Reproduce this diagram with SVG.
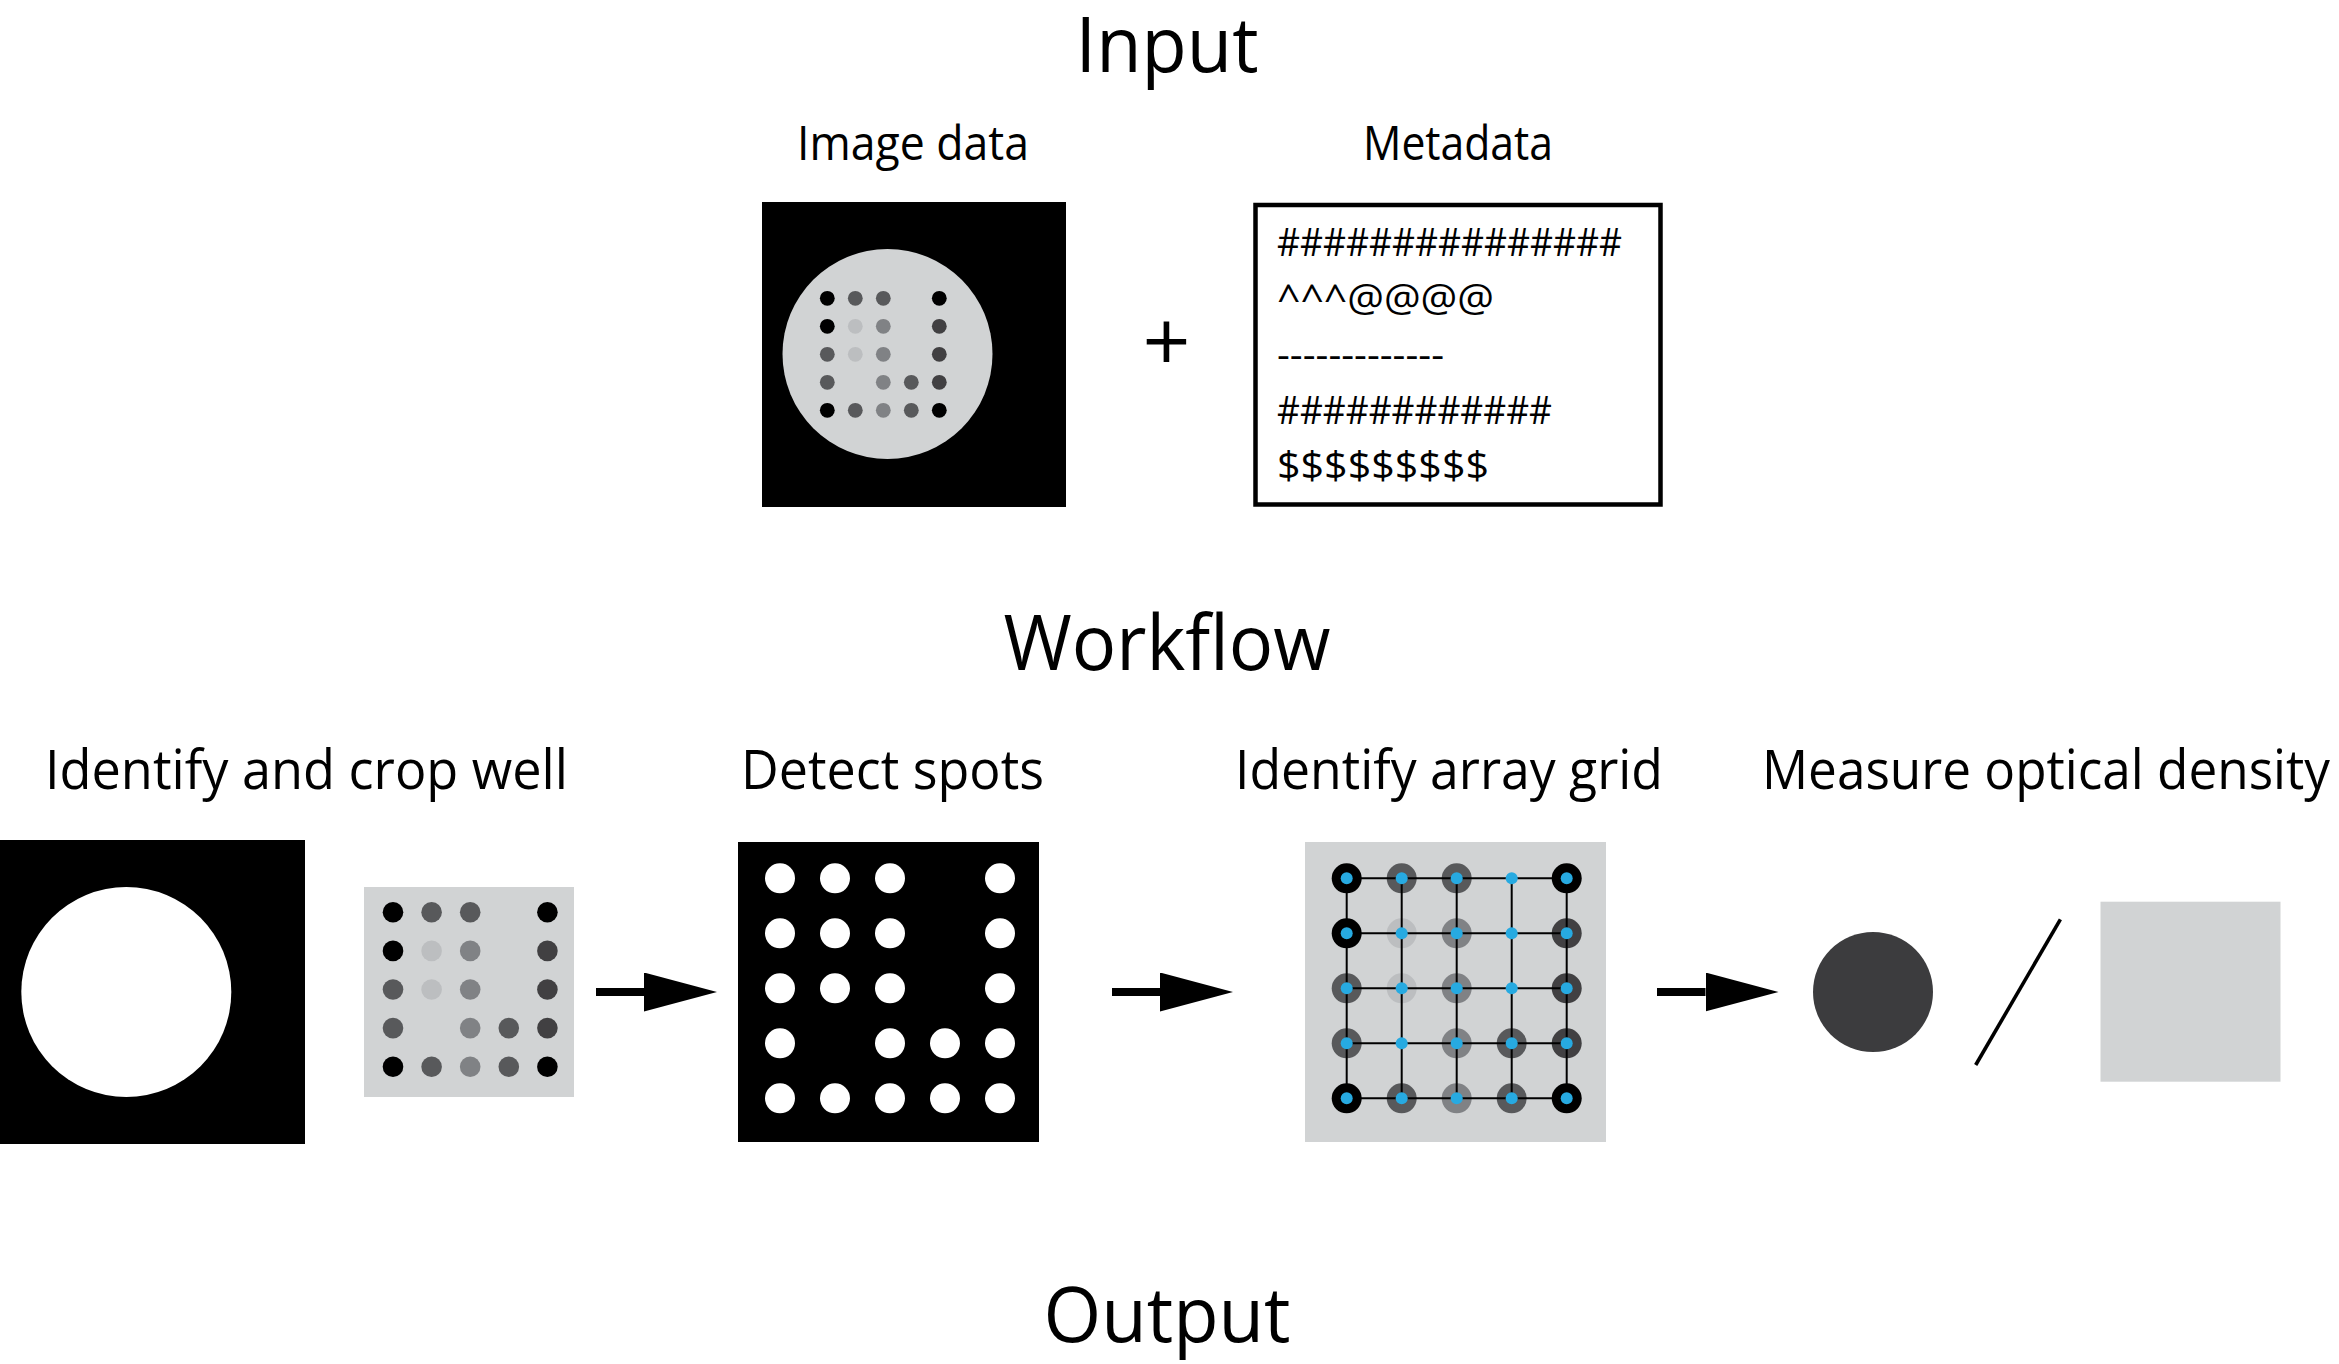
<svg xmlns="http://www.w3.org/2000/svg" width="2339" height="1364" viewBox="0 0 2339 1364">
<defs>
<style>
text{font-family:"Open Sans","Noto Sans","DejaVu Sans",sans-serif;fill:#000}
.title{font-size:77.5px}
.lbl{font-size:47px}
.wlbl{font-size:54.7px}
.meta{font-size:39px}
.k{fill:#000}
.d{fill:#58595B}
.m{fill:#808285}
.l{fill:#BCBEC0}
.x{fill:#414042}
.bg{fill:#D1D3D4}
.w{fill:#FFF}
.b{fill:#27AAE1}
.grid line{stroke:#000;stroke-width:2}
.conn{stroke:#000;stroke-width:8;fill:none}
</style>
<marker id="head" markerUnits="userSpaceOnUse" markerWidth="74" markerHeight="40" refX="0" refY="19.5" orient="auto">
<path d="M0,0 L73,19.5 L0,39 Z" fill="#000"/>
</marker>
</defs>
<rect width="2339" height="1364" fill="#FFF"/>

<g id="title-input"><text class="title" x="1167" y="72" text-anchor="middle" textLength="183" lengthAdjust="spacingAndGlyphs">Input</text></g>

<g id="node-image-data">
<text class="lbl" x="913" y="160" text-anchor="middle" textLength="232" lengthAdjust="spacingAndGlyphs">Image data</text>
<rect x="762" y="202" width="304" height="305" class="k"/>
<circle cx="887.5" cy="354" r="105" class="bg"/>
<g>
<circle cx="827.3" cy="298.3" r="7.4" class="k"/><circle cx="855.3" cy="298.3" r="7.4" class="d"/><circle cx="883.3" cy="298.3" r="7.4" class="d"/><circle cx="939.3" cy="298.3" r="7.4" class="k"/>
<circle cx="827.3" cy="326.3" r="7.4" class="k"/><circle cx="855.3" cy="326.3" r="7.4" class="l"/><circle cx="883.3" cy="326.3" r="7.4" class="m"/><circle cx="939.3" cy="326.3" r="7.4" class="x"/>
<circle cx="827.3" cy="354.3" r="7.4" class="d"/><circle cx="855.3" cy="354.3" r="7.4" class="l"/><circle cx="883.3" cy="354.3" r="7.4" class="m"/><circle cx="939.3" cy="354.3" r="7.4" class="x"/>
<circle cx="827.3" cy="382.3" r="7.4" class="d"/><circle cx="883.3" cy="382.3" r="7.4" class="m"/><circle cx="911.3" cy="382.3" r="7.4" class="d"/><circle cx="939.3" cy="382.3" r="7.4" class="x"/>
<circle cx="827.3" cy="410.3" r="7.4" class="k"/><circle cx="855.3" cy="410.3" r="7.4" class="d"/><circle cx="883.3" cy="410.3" r="7.4" class="m"/><circle cx="911.3" cy="410.3" r="7.4" class="d"/><circle cx="939.3" cy="410.3" r="7.4" class="k"/>
</g>
</g>

<g id="plus"><text x="1166.5" y="371" text-anchor="middle" style="font-size:84px">+</text></g>

<g id="node-metadata">
<text class="lbl" x="1458" y="160" text-anchor="middle" textLength="190" lengthAdjust="spacingAndGlyphs">Metadata</text>
<rect x="1255.5" y="205" width="405" height="299.5" fill="#FFF" stroke="#000" stroke-width="4.5"/>
<text class="meta" x="1277" y="256" textLength="345" lengthAdjust="spacingAndGlyphs">###############</text>
<text class="meta" x="1277" y="312" textLength="217" lengthAdjust="spacingAndGlyphs">^^^@@@@</text>
<text class="meta" x="1277" y="367.5" textLength="167" lengthAdjust="spacingAndGlyphs">-------------</text>
<text class="meta" x="1277" y="423.5" textLength="275" lengthAdjust="spacingAndGlyphs">############</text>
<text class="meta" x="1277" y="479" textLength="212" lengthAdjust="spacingAndGlyphs">$$$$$$$$$</text>
</g>

<g id="title-workflow"><text class="title" x="1167" y="670" text-anchor="middle" textLength="327" lengthAdjust="spacingAndGlyphs">Workflow</text></g>

<g id="node-crop-well">
<text class="wlbl" x="45" y="789" textLength="523" lengthAdjust="spacingAndGlyphs">Identify and crop well</text>
<rect x="0" y="840" width="305" height="304" class="k"/>
<circle cx="126.3" cy="992" r="105" class="w"/>
<rect x="364" y="887" width="210" height="210" class="bg"/>
<g>
<circle cx="393" cy="912.3" r="10.3" class="k"/><circle cx="431.6" cy="912.3" r="10.3" class="d"/><circle cx="470.2" cy="912.3" r="10.3" class="d"/><circle cx="547.4" cy="912.3" r="10.3" class="k"/>
<circle cx="393" cy="950.9" r="10.3" class="k"/><circle cx="431.6" cy="950.9" r="10.3" class="l"/><circle cx="470.2" cy="950.9" r="10.3" class="m"/><circle cx="547.4" cy="950.9" r="10.3" class="x"/>
<circle cx="393" cy="989.5" r="10.3" class="d"/><circle cx="431.6" cy="989.5" r="10.3" class="l"/><circle cx="470.2" cy="989.5" r="10.3" class="m"/><circle cx="547.4" cy="989.5" r="10.3" class="x"/>
<circle cx="393" cy="1028.1" r="10.3" class="d"/><circle cx="470.2" cy="1028.1" r="10.3" class="m"/><circle cx="508.8" cy="1028.1" r="10.3" class="d"/><circle cx="547.4" cy="1028.1" r="10.3" class="x"/>
<circle cx="393" cy="1066.7" r="10.3" class="k"/><circle cx="431.6" cy="1066.7" r="10.3" class="d"/><circle cx="470.2" cy="1066.7" r="10.3" class="m"/><circle cx="508.8" cy="1066.7" r="10.3" class="d"/><circle cx="547.4" cy="1066.7" r="10.3" class="k"/>
</g>
</g>

<g id="node-detect-spots">
<text class="wlbl" x="741" y="789" textLength="303" lengthAdjust="spacingAndGlyphs">Detect spots</text>
<rect x="738" y="842" width="301" height="300" class="k"/>
<g class="w">
<circle cx="780" cy="878.3" r="15"/><circle cx="835" cy="878.3" r="15"/><circle cx="890" cy="878.3" r="15"/><circle cx="1000" cy="878.3" r="15"/>
<circle cx="780" cy="933.3" r="15"/><circle cx="835" cy="933.3" r="15"/><circle cx="890" cy="933.3" r="15"/><circle cx="1000" cy="933.3" r="15"/>
<circle cx="780" cy="988.3" r="15"/><circle cx="835" cy="988.3" r="15"/><circle cx="890" cy="988.3" r="15"/><circle cx="1000" cy="988.3" r="15"/>
<circle cx="780" cy="1043.3" r="15"/><circle cx="890" cy="1043.3" r="15"/><circle cx="945" cy="1043.3" r="15"/><circle cx="1000" cy="1043.3" r="15"/>
<circle cx="780" cy="1098.3" r="15"/><circle cx="835" cy="1098.3" r="15"/><circle cx="890" cy="1098.3" r="15"/><circle cx="945" cy="1098.3" r="15"/><circle cx="1000" cy="1098.3" r="15"/>
</g>
</g>

<g id="node-array-grid">
<text class="wlbl" x="1235" y="789" textLength="428" lengthAdjust="spacingAndGlyphs">Identify array grid</text>
<rect x="1305" y="842" width="301" height="300" class="bg"/>
<g>
<circle cx="1346.7" cy="878.3" r="15" class="k"/><circle cx="1401.7" cy="878.3" r="15" class="d"/><circle cx="1456.7" cy="878.3" r="15" class="d"/><circle cx="1566.7" cy="878.3" r="15" class="k"/>
<circle cx="1346.7" cy="933.3" r="15" class="k"/><circle cx="1401.7" cy="933.3" r="15" class="l"/><circle cx="1456.7" cy="933.3" r="15" class="m"/><circle cx="1566.7" cy="933.3" r="15" class="x"/>
<circle cx="1346.7" cy="988.3" r="15" class="d"/><circle cx="1401.7" cy="988.3" r="15" class="l"/><circle cx="1456.7" cy="988.3" r="15" class="m"/><circle cx="1566.7" cy="988.3" r="15" class="x"/>
<circle cx="1346.7" cy="1043.3" r="15" class="d"/><circle cx="1456.7" cy="1043.3" r="15" class="m"/><circle cx="1511.7" cy="1043.3" r="15" class="d"/><circle cx="1566.7" cy="1043.3" r="15" class="x"/>
<circle cx="1346.7" cy="1098.3" r="15" class="k"/><circle cx="1401.7" cy="1098.3" r="15" class="d"/><circle cx="1456.7" cy="1098.3" r="15" class="m"/><circle cx="1511.7" cy="1098.3" r="15" class="d"/><circle cx="1566.7" cy="1098.3" r="15" class="k"/>
</g>
<g class="grid">
<line x1="1346.7" y1="878.3" x2="1566.7" y2="878.3"/>
<line x1="1346.7" y1="933.3" x2="1566.7" y2="933.3"/>
<line x1="1346.7" y1="988.3" x2="1566.7" y2="988.3"/>
<line x1="1346.7" y1="1043.3" x2="1566.7" y2="1043.3"/>
<line x1="1346.7" y1="1098.3" x2="1566.7" y2="1098.3"/>
<line x1="1346.7" y1="878.3" x2="1346.7" y2="1098.3"/>
<line x1="1401.7" y1="878.3" x2="1401.7" y2="1098.3"/>
<line x1="1456.7" y1="878.3" x2="1456.7" y2="1098.3"/>
<line x1="1511.7" y1="878.3" x2="1511.7" y2="1098.3"/>
<line x1="1566.7" y1="878.3" x2="1566.7" y2="1098.3"/>
</g>
<g class="b">
<circle cx="1346.7" cy="878.3" r="6"/><circle cx="1401.7" cy="878.3" r="6"/><circle cx="1456.7" cy="878.3" r="6"/><circle cx="1511.7" cy="878.3" r="6"/><circle cx="1566.7" cy="878.3" r="6"/>
<circle cx="1346.7" cy="933.3" r="6"/><circle cx="1401.7" cy="933.3" r="6"/><circle cx="1456.7" cy="933.3" r="6"/><circle cx="1511.7" cy="933.3" r="6"/><circle cx="1566.7" cy="933.3" r="6"/>
<circle cx="1346.7" cy="988.3" r="6"/><circle cx="1401.7" cy="988.3" r="6"/><circle cx="1456.7" cy="988.3" r="6"/><circle cx="1511.7" cy="988.3" r="6"/><circle cx="1566.7" cy="988.3" r="6"/>
<circle cx="1346.7" cy="1043.3" r="6"/><circle cx="1401.7" cy="1043.3" r="6"/><circle cx="1456.7" cy="1043.3" r="6"/><circle cx="1511.7" cy="1043.3" r="6"/><circle cx="1566.7" cy="1043.3" r="6"/>
<circle cx="1346.7" cy="1098.3" r="6"/><circle cx="1401.7" cy="1098.3" r="6"/><circle cx="1456.7" cy="1098.3" r="6"/><circle cx="1511.7" cy="1098.3" r="6"/><circle cx="1566.7" cy="1098.3" r="6"/>
</g>
</g>

<g id="node-measure">
<text class="wlbl" x="1762" y="789" textLength="568" lengthAdjust="spacingAndGlyphs">Measure optical density</text>
<circle cx="1873" cy="992" r="60" fill="#3C3C3E"/>
<line x1="2060.4" y1="919.3" x2="1975.7" y2="1065" stroke="#000" stroke-width="3.6"/>
<rect x="2100.5" y="901.7" width="180" height="180" class="bg"/>
</g>

<g id="title-output"><text class="title" x="1167" y="1342" text-anchor="middle" textLength="247" lengthAdjust="spacingAndGlyphs">Output</text></g>

<g id="connectors">
<line class="conn" x1="596" y1="992" x2="644" y2="992" marker-end="url(#head)"/>
<line class="conn" x1="1112" y1="992" x2="1160" y2="992" marker-end="url(#head)"/>
<line class="conn" x1="1657" y1="992" x2="1705.5" y2="992" marker-end="url(#head)"/>
</g>
</svg>
